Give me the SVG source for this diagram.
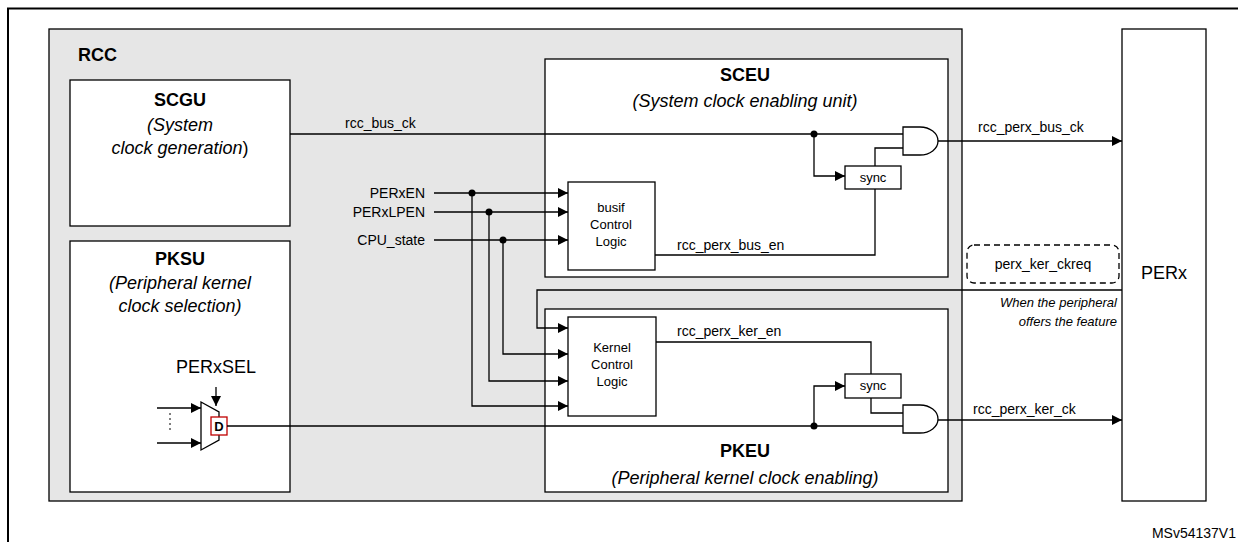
<svg xmlns="http://www.w3.org/2000/svg" width="1238" height="542" viewBox="0 0 1238 542">
<style>
text{font-family:"Liberation Sans",Arial,sans-serif;fill:#000}
.t{font-size:14px}.s{font-size:13px}.h{font-size:18px;font-weight:bold}.i{font-size:18px;font-style:italic}
.box{fill:#fff;stroke:#000;stroke-width:1.3}
.w{fill:none;stroke:#000;stroke-width:1.3}
.a{fill:none;stroke:#000;stroke-width:1.3;marker-end:url(#ar)}
</style>
<defs>
<marker id="ar" viewBox="0 0 10 10" refX="10" refY="5" markerWidth="14" markerHeight="10" markerUnits="userSpaceOnUse" orient="auto"><path d="M0,0L10,5L0,10z" fill="#000"/></marker>
</defs>
<rect width="1238" height="542" fill="#fff"/>
<path d="M8,542V8.5H1238" fill="none" stroke="#000" stroke-width="2"/>
<g id="rcc"><rect x="49" y="29" width="913" height="472" fill="#e6e6e6" stroke="#000" stroke-width="1.3"/><text x="78" y="61" class="h">RCC</text></g>
<g id="scgu"><rect x="70" y="80" width="220" height="146" class="box"/>
<text x="180" y="106" class="h" text-anchor="middle">SCGU</text>
<text x="180" y="131" class="i" text-anchor="middle">(System</text>
<text x="180" y="154" class="i" text-anchor="middle">clock generation<tspan font-style="normal">)</tspan></text></g>
<g id="pksu"><rect x="70" y="241" width="220" height="251" class="box"/>
<text x="180" y="265" class="h" text-anchor="middle">PKSU</text>
<text x="180" y="289" class="i" text-anchor="middle">(Peripheral kernel</text>
<text x="180" y="312" class="i" text-anchor="middle">clock selection)</text>
<text x="216" y="373" font-size="18" text-anchor="middle">PERxSEL</text>
<path d="M201,402L219,412V440L201,450Z" class="box"/>
<rect x="211" y="417" width="16" height="18" fill="#fff" stroke="#c00000" stroke-width="1.3"/>
<text x="219" y="431" font-size="13" font-weight="bold" text-anchor="middle">D</text>
<path d="M170,413V433" stroke="#000" stroke-dasharray="2,3"/>
</g>
<g id="sceu"><rect x="545" y="59" width="403" height="218" class="box"/>
<text x="745" y="81" class="h" text-anchor="middle">SCEU</text>
<text x="745" y="107" class="i" text-anchor="middle">(System clock enabling unit)</text></g>
<g id="pkeu"><rect x="545" y="309" width="403" height="183" class="box"/>
<text x="745" y="457" class="h" text-anchor="middle">PKEU</text>
<text x="745" y="484" class="i" text-anchor="middle">(Peripheral kernel clock enabling)</text></g>
<g id="busif"><rect x="568" y="182" width="87" height="88" class="box"/>
<text x="611" y="212" class="s" text-anchor="middle">busif</text>
<text x="611" y="229" class="s" text-anchor="middle">Control</text>
<text x="611" y="246" class="s" text-anchor="middle">Logic</text></g>
<g id="kcl"><rect x="568" y="317" width="88" height="99" class="box"/>
<text x="612" y="352" class="s" text-anchor="middle">Kernel</text>
<text x="612" y="369" class="s" text-anchor="middle">Control</text>
<text x="612" y="386" class="s" text-anchor="middle">Logic</text></g>
<g id="sync1"><rect x="845" y="166" width="56" height="23" class="box"/><text x="873" y="182" class="s" text-anchor="middle">sync</text></g>
<g id="sync2"><rect x="845" y="374" width="56" height="24" class="box"/><text x="873" y="390" class="s" text-anchor="middle">sync</text></g>
<g id="and1"><path d="M903,127H920A18,14 0 0 1 920,155H903Z" class="box"/></g>
<g id="and2"><path d="M903,405H920A18,14 0 0 1 920,433H903Z" class="box"/></g>
<g id="perx"><rect x="1122" y="29" width="84" height="472" class="box"/><text x="1164" y="279" font-size="18" text-anchor="middle">PERx</text></g>
<g id="ckreq"><rect x="967" y="245" width="152" height="38" rx="7" fill="#fff" stroke="#000" stroke-width="1.3" stroke-dasharray="6,4"/>
<text x="1043" y="269" class="t" text-anchor="middle">perx_ker_ckreq</text></g>
<g id="connectors">
<path d="M290,134H903" class="w"/>
<path d="M814,134V176H845" class="a"/>
<path d="M875,166V148H903" class="w"/>
<path d="M655,255H875V189" class="w"/>
<path d="M938,141H1122" class="a"/>
<path d="M434,193H568" class="a"/><path d="M434,212H568" class="a"/><path d="M434,240H568" class="a"/>
<path d="M472,193V406H568" class="a"/>
<path d="M489,212V381H568" class="a"/>
<path d="M503,240V354H568" class="a"/>
<path d="M1122,290H537V328H568" class="a"/>
<path d="M656,342H871V374" class="w"/>
<path d="M871,398V413H903" class="w"/>
<path d="M227,426H903" class="w"/>
<path d="M814,426V386H845" class="a"/>
<path d="M938,420H1122" class="a"/>
<path d="M216,387V406" class="a"/>
<path d="M157,408H201" class="a"/><path d="M157,443H201" class="a"/>
<circle cx="814" cy="134" r="3.5"/><circle cx="472" cy="193" r="3.5"/><circle cx="489" cy="212" r="3.5"/><circle cx="503" cy="240" r="3.5"/><circle cx="814" cy="426" r="3.5"/>
</g>
<text x="345" y="128" class="t">rcc_bus_ck</text>
<text x="425" y="198" class="t" text-anchor="end">PERxEN</text>
<text x="425" y="217" class="t" text-anchor="end">PERxLPEN</text>
<text x="425" y="245" class="t" text-anchor="end">CPU_state</text>
<text x="677" y="250" class="t">rcc_perx_bus_en</text>
<text x="978" y="132" class="t">rcc_perx_bus_ck</text>
<text x="677" y="336" class="t">rcc_perx_ker_en</text>
<text x="973" y="414" class="t">rcc_perx_ker_ck</text>
<text x="1117" y="307" class="s" font-style="italic" text-anchor="end">When the peripheral</text>
<text x="1117" y="326" class="s" font-style="italic" text-anchor="end">offers the feature</text>
<text x="1236" y="538" class="t" text-anchor="end">MSv54137V1</text>
</svg>
